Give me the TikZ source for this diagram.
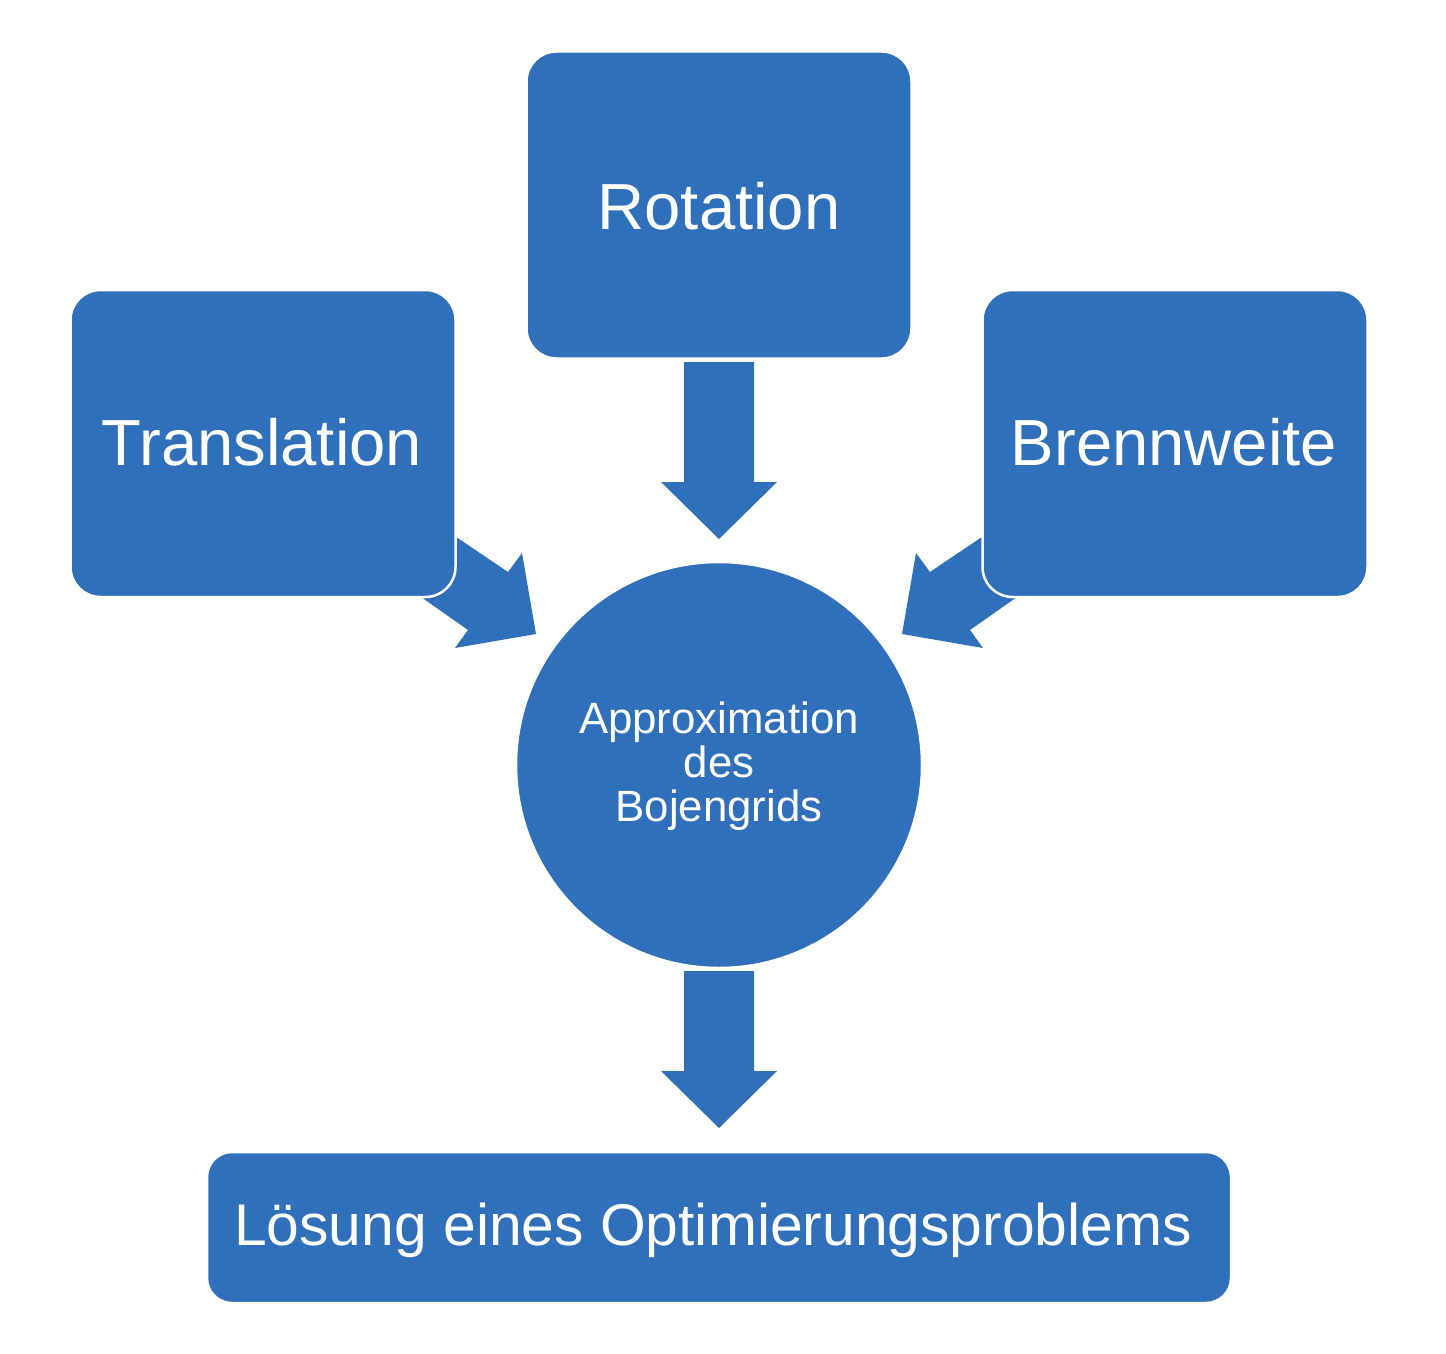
\documentclass[tikz,border=0pt]{standalone}
\usepackage{fontspec}
\setmainfont{Liberation Sans}
\definecolor{blk}{RGB}{48,112,187}
\begin{document}
\begin{tikzpicture}[x=1pt,y=-1pt,
  boxstyle/.style={rectangle, rounded corners=30pt, fill=blk, draw=white, line width=2.5pt, text=white, inner sep=0pt},
  bigtext/.style={font=\fontsize{65.2}{65.2}\selectfont},
  arrowshape/.style={fill=blk, draw=none}]
\useasboundingbox (0,0) rectangle (1446,1354);
% block arrows (behind the boxes)
\fill[blk] (425,516) -- (508,572) -- (522,553) -- (536,634) -- (455,648) -- (468,630) -- (394,578) -- cycle;
\fill[blk] (1013,516) -- (930,572) -- (916,553) -- (902,634) -- (983,648) -- (970,630) -- (1044,578) -- cycle;
% boxes
\node[boxstyle, minimum width=385pt, minimum height=307pt] (rot) at (719,205) {};
\node[bigtext, text=white] (rott) at (719,206) {Rotation};
\node[boxstyle, minimum width=385pt, minimum height=307pt] (tra) at (263,443.5) {};
\node[bigtext, text=white] (trat) at (262,442) {Translation};
\node[boxstyle, minimum width=385pt, minimum height=307pt] (bre) at (1175,443.5) {};
\node[bigtext, text=white] (bret) at (1174,442) {Brennweite};
\node[circle, fill=blk, draw=white, line width=2.5pt, minimum size=406pt, inner sep=0pt] (app) at (719,765) {};
\node[text=white, align=center, font=\fontsize{43.8}{44}\selectfont] (appt) at (719,766) {Approximation\\des\\Bojengrids};
\node[boxstyle, rounded corners=25pt, minimum width=1024pt, minimum height=151pt] (loe) at (719,1227.5) {};
\node[text=white, font=\fontsize{58.8}{58.8}\selectfont] (loet) at (713,1230) {Lösung eines Optimierungsproblems};
% down arrows
\fill[blk] (684,362) -- (754,362) -- (754,482) -- (777,482) -- (719,539) -- (661,482) -- (684,482) -- cycle;
\fill[blk] (684,971) -- (754,971) -- (754,1071) -- (777,1071) -- (719,1128) -- (661,1071) -- (684,1071) -- cycle;
\end{tikzpicture}
\end{document}
